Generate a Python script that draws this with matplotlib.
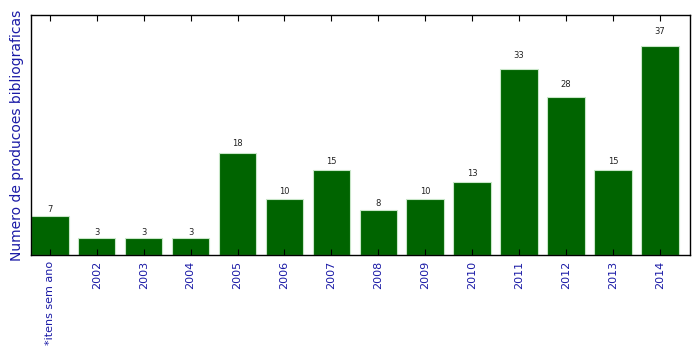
import matplotlib
matplotlib.use("Agg")
import matplotlib.pyplot as plt
import numpy as np

categories = ["*itens sem ano", "2002", "2003", "2004", "2005", "2006", "2007",
              "2008", "2009", "2010", "2011", "2012", "2013", "2014"]
values = [7, 3, 3, 3, 18, 10, 15, 8, 10, 13, 33, 28, 15, 37]

fig = plt.figure(figsize=(6.99, 3.54), dpi=100)
ax = fig.add_axes([31/699, 1-255/354, (690-31)/699, (255-15)/354])
x = np.arange(len(values))
ax.bar(x, values, width=0.8, color="#006400", edgecolor="#c8e6c8", linewidth=0.8)
for xi, v in zip(x, values):
    ax.text(xi, v * 1.05, str(v), ha="center", va="bottom", fontsize=6, color="#222222")
ax.set_xlim(-0.4, 13.64)
ax.set_ylim(0, 37 * 1.15)
ax.set_xticks(x)
ax.set_xticklabels(categories, rotation=90, fontsize=8, color="#1a1aa6")
ax.tick_params(axis="x", direction="in", top=True, length=4, pad=4)
ax.set_yticks([])
ax.set_ylabel("Numero de producoes bibliograficas", fontsize=10, color="#1a1aa6", labelpad=5)
for s in ax.spines.values():
    s.set_linewidth(1)
fig.savefig("out.png", dpi=100)
